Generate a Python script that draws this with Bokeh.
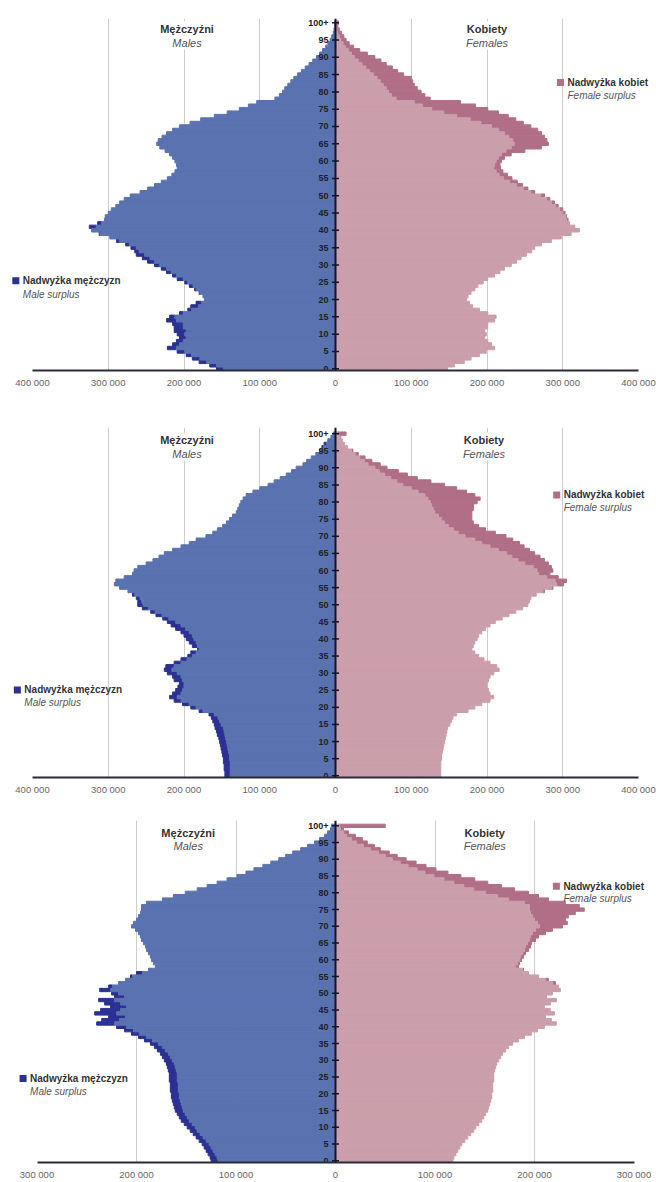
import numpy as np
from bokeh.plotting import figure
from bokeh.layouts import column
from bokeh.models import Range1d, FixedTicker, Label, Span, ColumnDataSource
from bokeh.core.properties import value
from bokeh.embed import file_html
from bokeh.resources import INLINE

# ---------------- data (thousands of persons, ages 0..100+) ----------------
AGES = list(range(101))
AGE_TICKS = list(range(0, 101, 5))
AGE_TICK_LABELS = [str(a) for a in range(0, 100, 5)] + ["100+"]

M1 = [157, 166, 180, 189, 197, 209, 222, 215, 210, 206,
      209, 213, 213, 215, 223, 219, 206, 195, 191, 184,
      173, 175, 180, 186, 193, 199, 209, 215, 223, 230,
      239, 248, 255, 263, 265, 270, 277, 289, 298, 312,
      322, 325, 314, 305, 304, 300, 296, 290, 285, 279,
      271, 258, 248, 239, 230, 222, 216, 212, 209, 210,
      212, 215, 219, 225, 232, 236, 234, 229, 223, 215,
      206, 192, 178, 160, 143, 127, 115, 104, 80, 74,
      70, 67, 63, 59, 55, 50, 45, 40, 35, 30,
      25, 21, 17, 13, 10, 7, 5, 3, 2, 1, 1]
F1 = [148, 157, 170, 179, 190, 199, 210, 206, 201, 197,
      199, 197, 201, 201, 210, 212, 201, 190, 181, 177,
      173, 175, 179, 184, 188, 195, 201, 210, 217, 223,
      232, 239, 245, 252, 259, 263, 272, 285, 298, 311,
      322, 316, 309, 307, 305, 303, 300, 294, 289, 283,
      276, 263, 254, 247, 240, 233, 227, 221, 218, 217,
      219, 223, 232, 250, 272, 281, 279, 276, 272, 267,
      258, 248, 238, 228, 215, 201, 185, 165, 125, 118,
      113, 108, 104, 102, 100, 90, 82, 75, 67, 60,
      52, 42, 32, 24, 18, 14, 11, 8, 5, 3, 4]

M2 = [146, 146, 147, 147, 148, 148, 149, 150, 151, 152,
      153, 154, 156, 157, 159, 160, 162, 164, 167, 180,
      191, 202, 213, 219, 215, 211, 208, 206, 213, 215,
      222, 226, 224, 213, 204, 195, 191, 182, 189, 193,
      197, 200, 204, 211, 217, 222, 228, 237, 244, 255,
      261, 261, 263, 268, 274, 285, 292, 290, 279, 268,
      266, 261, 250, 241, 233, 226, 215, 204, 193, 184,
      171, 162, 156, 149, 144, 140, 136, 131, 129, 127,
      125, 122, 118, 109, 100, 89, 81, 73, 65, 58,
      52, 43, 38, 32, 26, 21, 18, 15, 10, 6, 3]
F2 = [139, 139, 139, 139, 139, 140, 140, 141, 142, 143,
      144, 145, 146, 147, 148, 151, 153, 155, 160, 175,
      184, 193, 204, 209, 204, 202, 200, 200, 202, 204,
      209, 216, 213, 204, 196, 189, 184, 180, 182, 184,
      187, 189, 193, 198, 204, 211, 220, 229, 238, 247,
      254, 256, 258, 265, 276, 287, 301, 305, 294, 283,
      287, 285, 281, 276, 270, 263, 256, 249, 243, 234,
      225, 211, 198, 189, 182, 180, 180, 180, 182, 182,
      187, 191, 184, 173, 160, 144, 126, 108, 95, 83,
      68, 59, 48, 39, 30, 23, 16, 12, 9, 7, 14]

M3 = [125, 126, 128, 130, 132, 134, 137, 140, 143, 146,
      149, 152, 155, 157, 159, 161, 162, 163, 164, 165,
      165, 166, 166, 166, 167, 167, 167, 168, 169, 170,
      172, 174, 176, 179, 182, 186, 192, 198, 205, 212,
      220, 240, 235, 228, 242, 236, 226, 232, 238, 222,
      225, 237, 228, 218, 211, 206, 200, 188, 181, 183,
      185, 186, 188, 190, 191, 193, 195, 196, 198, 201,
      205, 203, 200, 198, 196, 195, 195, 190, 174, 163,
      151, 139, 129, 119, 109, 99, 90, 82, 73, 65,
      57, 50, 43, 35, 28, 21, 16, 11, 8, 5, 4]
F3 = [118, 119, 121, 123, 125, 127, 130, 133, 136, 139,
      141, 144, 147, 149, 151, 153, 154, 155, 156, 157,
      157, 158, 158, 158, 159, 159, 159, 160, 161, 162,
      164, 166, 168, 171, 174, 178, 184, 190, 197, 203,
      210, 222, 217, 211, 220, 216, 210, 216, 222, 212,
      218, 226, 224, 221, 214, 204, 194, 189, 184, 185,
      187, 189, 191, 194, 196, 197, 201, 204, 211, 218,
      228, 233, 231, 234, 241, 250, 245, 231, 214, 204,
      194, 180, 167, 153, 140, 126, 113, 101, 91, 81,
      71, 62, 54, 45, 39, 32, 27, 20, 13, 8, 50]

TICKS_400 = [-400000, -300000, -200000, -100000, 0, 100000, 200000, 300000, 400000]
LABELS_400 = ["400 000", "300 000", "200 000", "100 000", "0", "100 000", "200 000", "300 000", "400 000"]
GRID_400 = [-300000, -200000, -100000, 100000, 200000, 300000]
TICKS_300 = [-300000, -200000, -100000, 0, 100000, 200000, 300000]
LABELS_300 = ["300 000", "200 000", "100 000", "0", "100 000", "200 000", "300 000"]
GRID_300 = [-200000, -100000, 100000, 200000]

TITLE_M, TITLE_M_EN = "Mężczyźni", "Males"
TITLE_F, TITLE_F_EN = "Kobiety", "Females"
LEG_F, LEG_F_EN = "Nadwyżka kobiet", "Female surplus"
LEG_M, LEG_M_EN = "Nadwyżka mężczyzn", "Male surplus"

# ---------------- style ----------------
C_MALE = "#5a72b0"
C_MALE_SUR = "#2b3193"
C_FEM = "#cb9eab"
C_FEM_SUR = "#b06f87"
FONT = "Liberation Sans"
W = 656
ZERO_PX = 335


def pyramid(male, female, ticks, tick_labels, grid_ticks, px_per_100k, height,
            b_top, b_bottom, y_top, title_x, title_y, legf, legm):
    m = np.array(male) * 1000.0
    f = np.array(female) * 1000.0
    ages = np.array(AGES)
    common = np.minimum(m, f)
    base = ColumnDataSource(dict(age=ages, mc=-common, fc=common, zero=np.zeros(len(ages))))
    ms = m > f
    fs = f > m
    msur = ColumnDataSource(dict(age=ages[ms], l=-m[ms], r=-common[ms]))
    fsur = ColumnDataSource(dict(age=ages[fs], l=common[fs], r=f[fs]))

    left = -ZERO_PX / px_per_100k * 1e5
    right = (W - ZERO_PX) / px_per_100k * 1e5
    p = figure(width=W, height=height, x_range=Range1d(left, right),
               y_range=Range1d(-0.5, y_top), output_backend="svg",
               toolbar_location=None, y_axis_location=None,
               min_border_left=0, min_border_right=0,
               min_border_top=b_top, min_border_bottom=b_bottom)
    p.outline_line_color = None
    p.background_fill_color = "white"
    p.border_fill_color = "white"
    p.ygrid.visible = False
    p.xgrid.ticker = FixedTicker(ticks=grid_ticks)
    p.xgrid.grid_line_color = "#cdcdcd"
    p.xgrid.grid_line_width = 1

    p.xaxis.ticker = FixedTicker(ticks=ticks)
    p.xaxis.major_label_overrides = {t: l for t, l in zip(ticks, tick_labels)}
    p.xaxis.bounds = (min(ticks), max(ticks))
    p.xaxis.axis_line_color = "#2a2a38"
    p.xaxis.axis_line_width = 2
    p.xaxis.major_tick_line_color = None
    p.xaxis.minor_tick_line_color = None
    p.xaxis.major_tick_out = 0
    p.xaxis.major_tick_in = 0
    p.xaxis.minor_tick_out = 0
    p.xaxis.major_label_standoff = 6
    p.xaxis.major_label_text_font = FONT
    p.xaxis.major_label_text_font_size = "9.5px"
    p.xaxis.major_label_text_color = "#666666"

    lw = 1.0
    p.hbar(y="age", left="l", right="r", height=1.0, source=msur,
           fill_color=C_MALE_SUR, line_color=C_MALE_SUR, line_width=lw)
    p.hbar(y="age", left="mc", right="zero", height=1.0, source=base,
           fill_color=C_MALE, line_color=C_MALE, line_width=lw)
    p.hbar(y="age", left="l", right="r", height=1.0, source=fsur,
           fill_color=C_FEM_SUR, line_color=C_FEM_SUR, line_width=lw)
    p.hbar(y="age", left="zero", right="fc", height=1.0, source=base,
           fill_color=C_FEM, line_color=C_FEM, line_width=lw)

    # central age axis
    p.add_layout(Span(location=0, dimension="height", line_color="#15152a", line_width=2))
    zeros = [0] * len(AGE_TICKS)
    p.scatter(x=zeros, y=AGE_TICKS, marker="dash", size=7, line_color="#15152a", line_width=1.5)
    p.text(x=zeros, y=AGE_TICKS, text=AGE_TICK_LABELS, x_offset=-7,
           text_align="right", text_baseline="middle", text_font=value(FONT),
           text_font_style="bold", text_font_size="9px", text_color="#222222")

    # titles (italic line first so the bold line is drawn on top)
    for xx, t1, t2 in ((title_x[0], TITLE_M, TITLE_M_EN), (title_x[1], TITLE_F, TITLE_F_EN)):
        p.add_layout(Label(x=xx, y=title_y[1], text=t2, text_align="center",
                           text_baseline="middle", text_font=FONT, text_font_style="italic",
                           text_font_size="11px", text_color="#555555",
                           background_fill_color="white", padding=1))
        p.add_layout(Label(x=xx, y=title_y[0], text=t1, text_align="center",
                           text_baseline="middle", text_font=FONT, text_font_style="bold",
                           text_font_size="11px", text_color="#333333",
                           background_fill_color="white", padding=1))

    # legends
    for (lx, ly1, ly2), col, t1, t2 in ((legf, C_FEM_SUR, LEG_F, LEG_F_EN),
                                         (legm, C_MALE_SUR, LEG_M, LEG_M_EN)):
        p.scatter(x=[lx], y=[ly1], marker="square", size=7, fill_color=col, line_color=None)
        p.add_layout(Label(x=lx, y=ly1, x_offset=7, text=t1, text_align="left",
                           text_baseline="middle", text_font=FONT, text_font_style="bold",
                           text_font_size="10px", text_color="#333333"))
        p.add_layout(Label(x=lx, y=ly2, x_offset=7, text=t2, text_align="left",
                           text_baseline="middle", text_font=FONT, text_font_style="italic",
                           text_font_size="10px", text_color="#555555"))
    return p


p1 = pyramid(M1, F1, TICKS_400, LABELS_400, GRID_400, 75.75, 395, 18, 25, 101.2,
             (-196000, 200000), (98.3, 94.2),
             (297000, 82.7, 79.0), (-422000, 25.4, 21.4))
p2 = pyramid(M2, F2, TICKS_400, LABELS_400, GRID_400, 75.75, 402, 32, 20, 101.8,
             (-196000, 196000), (98.2, 94.2),
             (292000, 82.1, 78.5), (-420000, 25.1, 21.4))
p3 = pyramid(M3, F3, TICKS_300, LABELS_300, GRID_300, 99.5, 385, 23, 17, 101.6,
             (-148000, 150000), (97.9, 94.1),
             (222000, 82.0, 78.3), (-314000, 24.6, 20.7))

layout = column(p1, p2, p3)
open("out.html", "w").write(file_html(layout, INLINE))
